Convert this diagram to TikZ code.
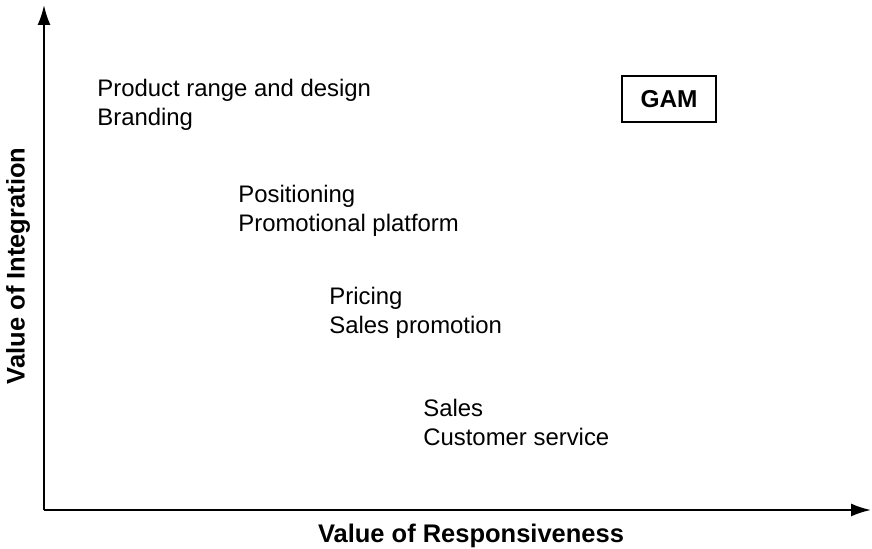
\documentclass[tikz,border=0pt]{standalone}
\usepackage{fontspec}
\setmainfont{Liberation Sans}
\usetikzlibrary{arrows.meta}
\tikzset{
  item/.style={anchor=west, align=left, inner sep=0pt, font=\fontsize{13.6}{16.5}\selectfont},
  axislabel/.style={font=\fontsize{14.5}{17}\selectfont\bfseries},
  axis/.style={line width=1.2pt, -{Latex[length=4mm,width=2.6mm]}}
}
\begin{document}
\begin{tikzpicture}
                \useasboundingbox (0,0) rectangle (17.44,10.98);
                \draw (0.88,0.78) coordinate (O);
                \draw (17.42,0.78) coordinate (X);
                \draw (0.88,10.88) coordinate (Y);
                \draw[axis] (O) -- (X);
                \draw[axis] (O) -- (Y);
                \node[axislabel] (xlab) at (9.42,0.26) {Value of Responsiveness};
                \node[axislabel, rotate=90] (ylab) at (0.36,5.66) {Value of Integration};
                \node[item] (range) at (1.94,8.89) {Product range and design\\Branding};
                \node[item] (position) at (4.76,6.77) {Positioning\\Promotional platform};
                \node[item] (pricing) at (6.58,4.73) {Pricing\\Sales promotion};
                \node[item] (sales) at (8.46,2.53) {Sales\\Customer service};
                \node[draw, line width=1.1pt, minimum width=1.88cm, minimum height=0.92cm,
                      font=\fontsize{13.9}{16}\selectfont\bfseries] (gam) at (13.38,9.0) {GAM};
            \end{tikzpicture}
\end{document}
